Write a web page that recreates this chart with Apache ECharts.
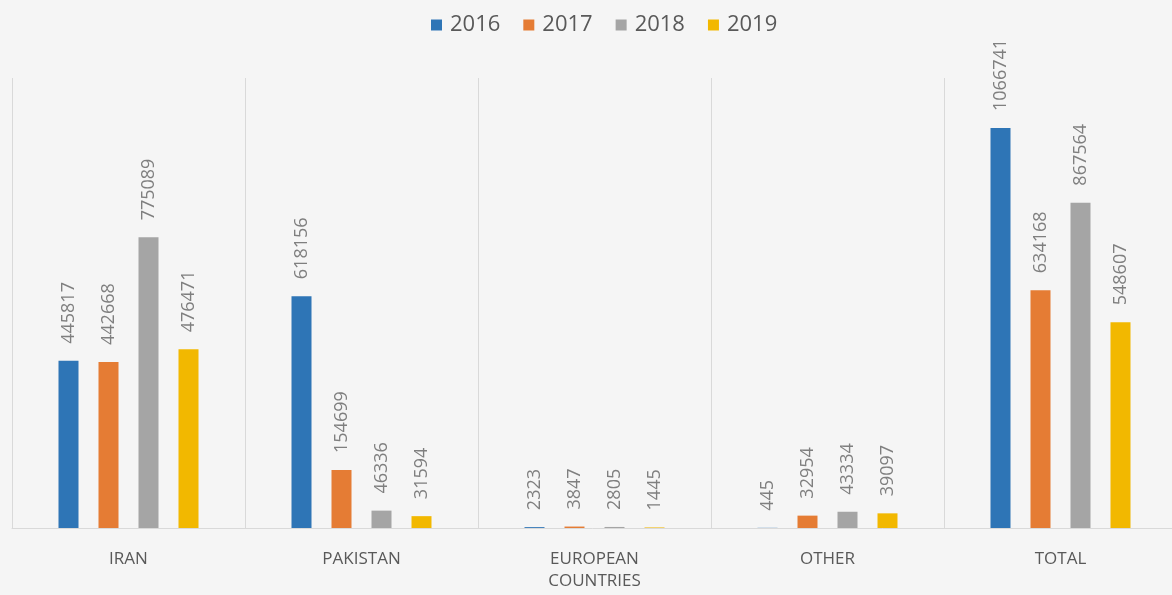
<!DOCTYPE html>
<html>
<head>
<meta charset="utf-8">
<script src="https://cdn.jsdelivr.net/npm/echarts@6/dist/echarts.min.js"></script>
<style>
  html, body { margin: 0; padding: 0; background: #f5f5f5; }
  #chart { width: 1172px; height: 595px; }
</style>
</head>
<body>
<div id="chart"></div>
<script>
// 카테고리와 연도별 값
const categories = ["IRAN", "PAKISTAN", "EUROPEAN\nCOUNTRIES", "OTHER", "TOTAL"];
const years = ["2016", "2017", "2018", "2019"];
const values2016 = [445817, 618156, 2323, 445, 1066741];
const values2017 = [442668, 154699, 3847, 32954, 634168];
const values2018 = [775089, 46336, 2805, 43334, 867564];
const values2019 = [476471, 31594, 1445, 39097, 548607];
const colors = ["#2e75b6", "#e57c34", "#a5a5a5", "#f2b800"];

const seriesValues = [values2016, values2017, values2018, values2019];

function makeSeries(name, data, color) {
    return {
        name: name,
        type: "bar",
        data: data,
        barWidth: 20,
        barGap: "100%",
        itemStyle: { color: color },
        label: {
            show: true,
            position: "top",
            rotate: 90,
            align: "left",
            verticalAlign: "middle",
            distance: 17,
            color: "#7f7f7f",
            fontFamily: "Open Sans",
            fontSize: 18
        }
    };
}

const chart = echarts.init(document.getElementById("chart"));
chart.setOption({
    backgroundColor: "#f5f5f5",
    animation: false,
    color: colors,
    legend: {
        top: 9,
        left: 426,
        itemWidth: 11,
        itemHeight: 11,
        itemGap: 23,
        icon: "rect",
        textStyle: { color: "#595959", fontFamily: "Open Sans", fontSize: 22, padding: [0, 0, 0, 3] }
    },
    // 오른쪽 경계선이 화면 밖으로 나가도록 width 지정
    grid: { left: 12, width: 1165, top: 78, bottom: 67, outerBoundsMode: "none" },
    xAxis: {
        type: "category",
        data: categories,
        axisLine: { lineStyle: { color: "#d9d9d9", width: 1 } },
        axisTick: { show: false },
        splitLine: { show: true, lineStyle: { color: "#d9d9d9", width: 1 } },
        axisLabel: {
            color: "#595959",
            fontFamily: "Open Sans",
            fontSize: 17,
            lineHeight: 22,
            margin: 20,
            interval: 0
        }
    },
    yAxis: {
        type: "value",
        min: 0,
        max: 1200000,
        show: false,
        splitLine: { show: false }
    },
    series: years.map((y, i) => makeSeries(y, seriesValues[i], colors[i]))
});
</script>
</body>
</html>
